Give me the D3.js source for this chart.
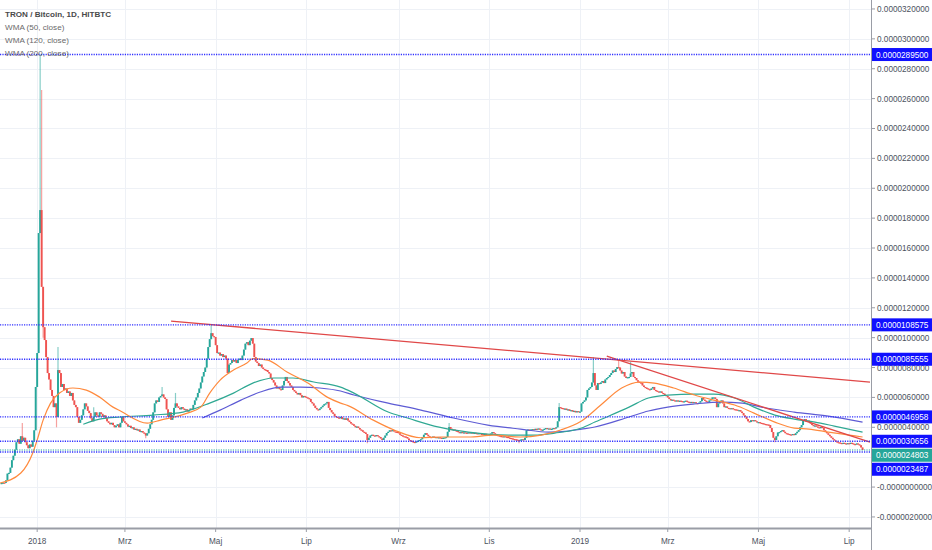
<!DOCTYPE html>
<html>
<head>
<meta charset="utf-8">
<script src="https://cdn.jsdelivr.net/npm/d3@7"></script>
<style>
  body { margin: 0; background: #fff; }
  svg { display: block; font-family: "Liberation Sans", Arial, sans-serif; }
</style>
</head>
<body>
<div id="chart"></div>
<script>
// all prices in satoshi (1e-8 BTC), daily closes
var firstDay = "2017-12-08";
var dec2017 = [27,30,28,45,90,95,130,180,210,250,300,320,290,340,310,330,300,280,260,285,270,310,380,670];
var jan2018 = [897,1700,1854,1340,1070,984,870,763,720,650,610,535,560,470,783,763,670,690,650,660,630,640,610,630,580,550,535,470,430,450,480];
var feb2018 = [520,560,540,510,495,460,440,470,500,480,470,500,490,470,480,460,440,430,420,430,415,400,410,420,400,430,470,440];
var mar2018 = [430,420,405,410,395,400,385,390,380,385,370,375,365,360,345,360,390,420,450,500,560,580,570,600,610,620,600,590,520,470,500];
var apr2018 = [450,480,530,560,540,530,520,535,525,515,520,505,515,525,520,550,580,600,630,660,700,740,770,800,860,937,990,1030,1010,1004];
var may2018 = [950,897,900,880,890,870,880,860,763,820,830,850,840,850,830,850,860,850,880,920,960,970,950,980,997,960,870,840,830,810,820];
var jun2018 = [800,790,785,783,770,760,730,716,700,680,660,670,655,650,680,710,737,710,696,680,670,650,640,630,620,630,615,600,610,605];
var jul2018 = [600,595,590,570,560,545,530,520,515,525,535,545,555,560,570,530,515,500,490,475,470,465,460,470,455,460,450,460,445,435,425];
var aug2018 = [420,410,400,405,395,385,380,370,365,355,315,330,345,350,345,340,348,340,335,325,315,330,345,362,370,380,375,381,372,370,368];
var sep2018 = [360,350,345,340,338,335,325,315,310,305,302,300,305,310,315,320,335,350,361,350,340,335,332,338,330,335,328,333,330,328];
var oct2018 = [330,332,335,370,402,390,381,385,378,375,368,365,368,362,366,364,360,366,362,365,361,363,360,358,361,356,355,352,356,350,348];
var nov2018 = [350,358,368,360,352,348,345,342,340,338,340,336,335,330,328,325,322,320,318,315,312,318,320,315,330,381,385,380,385,388];
var dec2018 = [385,390,388,392,386,380,384,390,395,388,392,385,390,395,392,400,440,535,530,528,520,525,515,520,510,515,505,510,500,508,502];
var jan2019 = [505,560,570,580,600,650,660,670,700,763,680,650,696,690,700,710,696,720,730,737,750,763,780,770,790,803,800,780,760,770,740];
var feb2019 = [730,735,737,760,770,737,730,715,705,700,696,680,670,665,660,655,650,660,670,650,645,640,636,640,630,625,616,610];
var mar2019 = [600,590,580,585,580,575,580,572,578,575,570,574,578,572,570,566,570,565,568,562,560,565,575,596,585,578,572,570,580,590,600];
var apr2019 = [600,590,535,560,575,580,560,535,540,530,528,525,528,522,520,518,515,515,505,495,480,470,455,440,435,448,445,448,440,435];
var may2019 = [435,430,428,425,422,420,418,415,395,368,330,315,340,365,368,375,381,370,361,358,355,352,350,355,348,360,370,381,400,415,448];
var jun2019 = [455,440,445,435,425,415,410,412,405,400,398,402,395,380,368,360,350,340,330,320,312,305,300,298,295,290,296,292,288,294];
var jul2019 = [290,296,292,288,285,292,286,280,265,248.03];

// long wicks that stand out: [date, high, low]
var wicks = [
  ["2017-12-22", 428, null], ["2018-01-03", 2895, null], ["2018-01-04", 2657, null],
  ["2018-01-05", null, 1000], ["2018-01-14", null, 400], ["2018-01-15", 937, null],
  ["2018-02-08", 535, null], ["2018-03-15", null, 327], ["2018-03-26", 670, null],
  ["2018-04-04", 630, null], ["2018-04-28", 1085, null], ["2018-08-11", null, 294],
  ["2018-10-05", 428, null], ["2018-11-21", null, 294], ["2018-12-18", 562, null],
  ["2019-01-10", 870, null], ["2019-01-27", 850, null], ["2019-02-04", 837, null],
  ["2019-05-12", null, 300]
];

var wma50 = [
  ["2017-12-07",27],["2017-12-21",94],["2017-12-29",228],["2018-01-01",315],["2018-01-05",448],
  ["2018-01-10",562],["2018-01-16",629],["2018-01-25",663],["2018-02-03",649],["2018-02-12",602],
  ["2018-02-21",535],["2018-02-26",509],["2018-03-16",428],["2018-03-25",448],["2018-04-12",495],
  ["2018-04-21",535],["2018-04-27",629],["2018-05-04",716],["2018-05-13",783],["2018-05-22",830],
  ["2018-05-26",860],["2018-06-05",850],["2018-06-18",770],["2018-07-02",696],["2018-07-15",602],
  ["2018-07-24",562],["2018-07-29",545],["2018-08-15",448],["2018-08-29",382],["2018-09-16",330],
  ["2018-09-29",335],["2018-10-18",335],["2018-11-04",348],["2018-11-22",335],["2018-12-06",348],
  ["2018-12-19",382],["2019-01-02",442],["2019-01-15",549],["2019-01-29",663],["2019-02-10",703],
  ["2019-02-20",696],["2019-03-05",663],["2019-03-19",616],["2019-04-01",582],["2019-04-15",549],
  ["2019-04-28",495],["2019-05-12",435],["2019-05-25",395],["2019-06-04",388],["2019-06-17",368],
  ["2019-07-01",348],["2019-07-10",335]
];
var wma120 = [
  ["2018-02-01",420],["2018-02-12",455],["2018-02-26",469],["2018-03-20",482],["2018-04-09",502],
  ["2018-04-27",562],["2018-05-13",629],["2018-05-26",696],["2018-06-09",730],["2018-06-22",730],
  ["2018-07-06",703],["2018-07-24",669],["2018-08-02",629],["2018-08-25",502],["2018-09-07",462],
  ["2018-09-25",408],["2018-10-18",368],["2018-11-14",348],["2018-12-01",348],["2018-12-15",361],
  ["2019-01-02",395],["2019-01-11",435],["2019-02-03",535],["2019-02-16",596],["2019-03-01",616],
  ["2019-03-19",622],["2019-04-01",622],["2019-04-15",596],["2019-04-28",535],["2019-05-12",482],
  ["2019-05-25",455],["2019-06-08",435],["2019-06-21",408],["2019-07-10",368]
];
var wma200 = [
  ["2018-04-22",462],["2018-05-04",515],["2018-05-18",582],["2018-05-31",636],["2018-06-14",669],
  ["2018-06-27",669],["2018-07-10",663],["2018-07-24",643],["2018-08-02",616],["2018-08-25",562],
  ["2018-09-16",515],["2018-10-08",462],["2018-10-31",415],["2018-11-22",388],["2018-12-11",368],
  ["2018-12-24",375],["2019-01-02",388],["2019-01-11",402],["2019-02-03",469],["2019-02-16",509],
  ["2019-03-01",535],["2019-03-19",556],["2019-04-06",569],["2019-04-20",562],["2019-05-03",535],
  ["2019-05-25",502],["2019-06-17",475],["2019-07-10",435]
];

var trendLines = [
  [["2018-04-01", 1111], ["2019-07-15", 703]],
  [["2019-01-19", 877], ["2019-07-15", 301]]
];

var levels = [2895, 1085.75, 855.55, 469.58, 306.56, 234.87];

var yTicks = [3200,3000,2800,2600,2400,2200,2000,1800,1600,1400,1200,1000,800,600,400,200,0,-200];
var yTickLabels = ["0.0000320000","0.0000300000","0.0000280000","0.0000260000","0.0000240000",
  "0.0000220000","0.0000200000","0.0000180000","0.0000160000","0.0000140000","0.0000120000",
  "0.0000100000","0.0000080000","0.0000060000","0.0000040000","0.0000020000","-0.0000000000",
  "-0.0000020000"];

var xTicks = ["2018-01-01","2018-03-01","2018-05-01","2018-07-01","2018-09-01","2018-11-01",
  "2019-01-01","2019-03-01","2019-05-01","2019-07-01"];
var xTickLabels = ["2018","Mrz","Maj","Lip","Wrz","Lis","2019","Mrz","Maj","Lip"];

var legendLines = ["TRON / Bitcoin, 1D, HITBTC", "WMA (50, close)", "WMA (120, close)", "WMA (200, close)"];

function drawChart() {
  var width = 932, height = 550;
  var plotW = 871, plotH = 528;
  var parse = d3.utcParse("%Y-%m-%d");
  var fmt = function(v) { return (v * 1e-8).toFixed(10); };

  var closes = [].concat(dec2017, jan2018, feb2018, mar2018, apr2018, may2018, jun2018, jul2018,
    aug2018, sep2018, oct2018, nov2018, dec2018, jan2019, feb2019, mar2019, apr2019, may2019,
    jun2019, jul2019);

  var wickMap = {};
  wicks.forEach(function(w) { wickMap[w[0]] = w; });

  var day0 = parse(firstDay);
  var candles = closes.map(function(c, i) {
    var date = d3.utcDay.offset(day0, i);
    var open = i === 0 ? c : closes[i - 1];
    var key = d3.utcFormat("%Y-%m-%d")(date);
    var w = wickMap[key];
    var hi = Math.max(open, c), lo = Math.min(open, c);
    if (w && w[1] != null) hi = w[1];
    if (w && w[2] != null) lo = w[2];
    return {date: date, open: open, close: c, high: hi, low: lo};
  });

  var x = d3.scaleUtc().domain([parse("2017-12-07"), parse("2019-07-15")]).range([0, 870]);
  var y = d3.scaleLinear().domain([-274, 3260]).range([plotH, 0]);

  var svg = d3.select('#chart')
    .append('svg')
    .attr('width', width)
    .attr('height', height);

  svg.append('rect').attr('width', width).attr('height', height).attr('fill', '#fff');

  var plot = svg.append('g');
  plot.append('clipPath').attr('id', 'clip')
    .append('rect').attr('width', plotW).attr('height', plotH);

  // grid
  plot.selectAll('.hgrid').data(yTicks).enter().append('line')
    .attr('x1', 0).attr('x2', plotW)
    .attr('y1', function(d) { return Math.round(y(d)) + 0.5; })
    .attr('y2', function(d) { return Math.round(y(d)) + 0.5; })
    .attr('stroke', '#eef1f6').attr('stroke-width', 1);
  plot.selectAll('.vgrid').data(xTicks).enter().append('line')
    .attr('y1', 0).attr('y2', plotH)
    .attr('x1', function(d) { return Math.round(x(parse(d))) + 0.5; })
    .attr('x2', function(d) { return Math.round(x(parse(d))) + 0.5; })
    .attr('stroke', '#eef1f6').attr('stroke-width', 1);

  var inner = plot.append('g').attr('clip-path', 'url(#clip)');

  // candles
  var up = '#26a69a', down = '#ef5350';
  var cg = inner.append('g');
  cg.selectAll('line.wick').data(candles).enter().append('line')
    .attr('x1', function(d) { return x(d.date); })
    .attr('x2', function(d) { return x(d.date); })
    .attr('y1', function(d) { return y(d.high); })
    .attr('y2', function(d) { return y(d.low); })
    .attr('stroke', function(d) { return d.close >= d.open ? up : down; })
    .attr('stroke-opacity', 0.55)
    .attr('stroke-width', 1.2);
  cg.selectAll('rect.body').data(candles).enter().append('rect')
    .attr('x', function(d) { return x(d.date) - 0.95; })
    .attr('width', 1.9)
    .attr('y', function(d) { return y(Math.max(d.open, d.close)); })
    .attr('height', function(d) { return Math.max(1.2, Math.abs(y(d.open) - y(d.close))); })
    .attr('fill', function(d) { return d.close >= d.open ? up : down; });

  // moving averages
  var line = d3.line()
    .x(function(d) { return x(parse(d[0])); })
    .y(function(d) { return y(d[1]); })
    .curve(d3.curveMonotoneX);
  [[wma200, '#5d5bd4'], [wma120, '#2fa893'], [wma50, '#ff8a3d']].forEach(function(s) {
    inner.append('path').attr('d', line(s[0]))
      .attr('fill', 'none').attr('stroke', s[1]).attr('stroke-width', 1.2);
  });

  // trend lines
  trendLines.forEach(function(t) {
    inner.append('line')
      .attr('x1', x(parse(t[0][0]))).attr('y1', y(t[0][1]))
      .attr('x2', x(parse(t[1][0]))).attr('y2', y(t[1][1]))
      .attr('stroke', '#e04848').attr('stroke-width', 1.3);
  });

  // horizontal levels
  var last = candles[candles.length - 1].close;
  levels.forEach(function(v) {
    inner.append('line')
      .attr('x1', 0).attr('x2', plotW)
      .attr('y1', y(v)).attr('y2', y(v))
      .attr('stroke', '#2f2fff').attr('stroke-width', 1.4)
      .attr('stroke-dasharray', '1.2,1.2');
  });
  inner.append('line')
    .attr('x1', 0).attr('x2', plotW)
    .attr('y1', y(last)).attr('y2', y(last))
    .attr('stroke', '#26a69a').attr('stroke-width', 1.2)
    .attr('stroke-dasharray', '1.2,1.2');

  // legend
  svg.selectAll('.legend').data(legendLines).enter().append('text')
    .attr('x', 5)
    .attr('y', function(d, i) { return 17 + i * 13; })
    .attr('font-size', 8.1)
    .attr('font-weight', function(d, i) { return i === 0 ? 'bold' : 'normal'; })
    .attr('fill', function(d, i) { return i === 0 ? '#4a4a4a' : '#6a6a6a'; })
    .text(function(d) { return d; });

  // price tags on the axis, pushed apart when they overlap
  var tags = levels.map(function(v) { return {v: v, color: '#1010ff'}; });
  tags.push({v: last, color: '#26a69a'});
  tags.forEach(function(t) { t.y = y(t.v); });
  tags.sort(function(a, b) { return a.y - b.y; });
  for (var i = 1; i < tags.length; i++) {
    if (tags[i].y < tags[i - 1].y + 14) tags[i].y = tags[i - 1].y + 14;
  }
  // a tick label sitting right under a tag is hidden by it
  var shownTicks = yTicks.filter(function(v) {
    return !tags.some(function(t) { return Math.abs(t.y - y(v)) < 7; });
  });

  // right axis
  svg.append('line').attr('x1', plotW + 0.5).attr('x2', plotW + 0.5)
    .attr('y1', 0).attr('y2', height).attr('stroke', '#9a9da6').attr('stroke-width', 1);
  svg.selectAll('.ytick').data(yTicks).enter().append('line')
    .attr('x1', plotW).attr('x2', plotW + 4)
    .attr('y1', function(d) { return y(d); })
    .attr('y2', function(d) { return y(d); })
    .attr('stroke', '#9a9da6');
  svg.selectAll('.ylab').data(shownTicks).enter().append('text')
    .attr('x', plotW + 6)
    .attr('y', function(d) { return y(d) + 3; })
    .attr('font-size', 8.2)
    .attr('fill', '#4c525e')
    .text(function(d) { return yTickLabels[yTicks.indexOf(d)]; });

  // bottom axis
  svg.append('line').attr('x1', 0).attr('x2', plotW)
    .attr('y1', plotH + 0.5).attr('y2', plotH + 0.5)
    .attr('stroke', '#9a9da6').attr('stroke-width', 2);
  svg.selectAll('.xtick').data(xTicks).enter().append('line')
    .attr('x1', function(d) { return x(parse(d)); })
    .attr('x2', function(d) { return x(parse(d)); })
    .attr('y1', plotH).attr('y2', plotH + 4)
    .attr('stroke', '#9a9da6');
  svg.selectAll('.xlab').data(xTicks).enter().append('text')
    .attr('x', function(d) { return x(parse(d)); })
    .attr('y', 544)
    .attr('text-anchor', 'middle')
    .attr('font-size', 8.2)
    .attr('fill', '#4c525e')
    .text(function(d, i) { return xTickLabels[i]; });

  var tag = svg.selectAll('.tag').data(tags).enter().append('g');
  tag.append('rect')
    .attr('x', plotW + 1).attr('width', width - plotW - 1)
    .attr('y', function(d) { return d.y - 6.5; })
    .attr('height', 13)
    .attr('fill', function(d) { return d.color; });
  tag.append('text')
    .attr('x', plotW + 5)
    .attr('y', function(d) { return d.y + 3; })
    .attr('font-size', 8.2)
    .attr('fill', '#fff')
    .text(function(d) { return fmt(d.v); });
}

drawChart();
</script>
</body>
</html>
